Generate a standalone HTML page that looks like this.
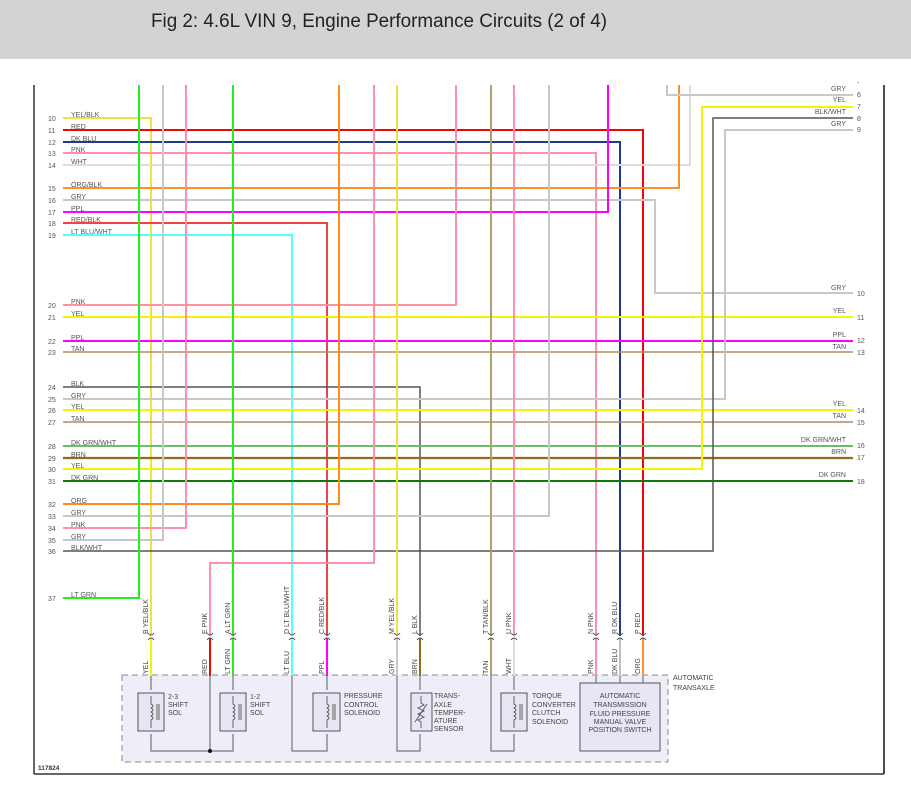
<!DOCTYPE html>
<html><head><meta charset="utf-8"><style>
html,body{margin:0;padding:0;background:#fff;}
svg{display:block;}
text{font-family:"Liberation Sans",sans-serif;}
</style></head><body>
<svg width="911" height="798" viewBox="0 0 911 798" xmlns="http://www.w3.org/2000/svg">
<rect x="0" y="0" width="911" height="59" fill="#d3d3d3"/>
<text x="151" y="27" font-size="19" fill="#222" textLength="456" lengthAdjust="spacingAndGlyphs">Fig 2: 4.6L VIN 9, Engine Performance Circuits (2 of 4)</text>
<line x1="34" y1="85" x2="34" y2="774" stroke="#333" stroke-width="1.5"/>
<line x1="884" y1="85" x2="884" y2="774" stroke="#111" stroke-width="1.5"/>
<line x1="34" y1="774" x2="884" y2="774" stroke="#333" stroke-width="1.5"/>

<rect x="122" y="675" width="546" height="87" fill="#eeeef8" stroke="#888" stroke-dasharray="6,4"/>

<g fill="none" stroke-width="2">
<polyline points="63,118 151,118 151,636" stroke="#f0e040"/>
<polyline points="63,130 643,130 643,636" stroke="#ff0000"/>
<polyline points="63,142 620,142 620,636" stroke="#1f3a93"/>
<polyline points="63,153 596,153 596,636" stroke="#ff90a8"/>
<polyline points="63,165 690,165 690,85" stroke="#dddddd"/>
<polyline points="63,188 679,188 679,85" stroke="#ff9030"/>
<polyline points="63,200 655,200 655,293 853,293" stroke="#c8c8c8"/>
<polyline points="63,212 608,212 608,85" stroke="#ff00ff"/>
<polyline points="63,223 327,223 327,636" stroke="#ee4444"/>
<polyline points="63,235 292,235 292,636" stroke="#55ffff"/>
<polyline points="63,305 456,305 456,85" stroke="#ff90a8"/>
<polyline points="63,317 853,317" stroke="#f5f500"/>
<polyline points="63,341 853,341" stroke="#ff00ff"/>
<polyline points="63,352 853,352" stroke="#a89060" stroke-width="1.6"/>
<polyline points="63,387 420,387 420,636" stroke="#555" stroke-width="1.5"/>
<polyline points="63,399 725,399 725,130 853,130" stroke="#c8c8c8"/>
<polyline points="63,410 853,410" stroke="#f5f500"/>
<polyline points="63,422 853,422" stroke="#a89060" stroke-width="1.6"/>
<polyline points="63,446 853,446" stroke="#6dbb6d"/>
<polyline points="63,458 853,458" stroke="#8b6d1a" stroke-width="2.2"/>
<polyline points="63,469 702,469 702,107 853,107" stroke="#f5f500"/>
<polyline points="63,481 853,481" stroke="#0a7a0a"/>
<polyline points="63,504 339,504 339,85" stroke="#ff8c1a"/>
<polyline points="63,516 549,516 549,85" stroke="#c8c8c8"/>
<polyline points="63,528 186,528 186,85" stroke="#ff90a8"/>
<polyline points="63,540 163,540 163,85" stroke="#c8c8c8"/>
<polyline points="63,551 713,551 713,118 853,118" stroke="#555" stroke-width="1.5"/>
<polyline points="63,598 139,598 139,85" stroke="#22ee22"/>
<polyline points="667,85 667,95 853,95" stroke="#c8c8c8"/>
<polyline points="374,85 374,563 210,563 210,636" stroke="#ff90a8"/>
<polyline points="233,85 233,636" stroke="#22ee22"/>
<polyline points="397,85 397,636" stroke="#f0e040"/>
<polyline points="491,85 491,636" stroke="#b0a070"/>
<polyline points="514,85 514,636" stroke="#ff90a8"/>
<line x1="151" y1="638" x2="151" y2="676" stroke="#f5f500"/>
<line x1="210" y1="638" x2="210" y2="676" stroke="#ff0000"/>
<line x1="233" y1="638" x2="233" y2="676" stroke="#22ee22"/>
<line x1="292" y1="638" x2="292" y2="676" stroke="#55ffff"/>
<line x1="327" y1="638" x2="327" y2="676" stroke="#ff00ff"/>
<line x1="397" y1="638" x2="397" y2="676" stroke="#c8c8c8"/>
<line x1="420" y1="638" x2="420" y2="676" stroke="#8b6d1a"/>
<line x1="491" y1="638" x2="491" y2="676" stroke="#b0a070"/>
<line x1="514" y1="638" x2="514" y2="676" stroke="#dddddd"/>
<line x1="596" y1="638" x2="596" y2="676" stroke="#ff90a8"/>
<line x1="620" y1="638" x2="620" y2="676" stroke="#c0c0c0"/>
<line x1="643" y1="638" x2="643" y2="676" stroke="#ff9030"/>
</g>

<g fill="none" stroke="#777" stroke-width="1.2">
<polyline points="151,676 151,690"/><polyline points="151,734 151,751 233,751 233,734"/><polyline points="233,676 233,690"/>
<polyline points="210,676 210,751"/>
<polyline points="292,676 292,751 327,751 327,734"/><polyline points="327,676 327,690"/>
<polyline points="397,676 397,751 420,751 420,734"/><polyline points="420,676 420,690"/>
<polyline points="491,676 491,751 514,751 514,734"/><polyline points="514,676 514,690"/>
<line x1="596" y1="676" x2="596" y2="683"/><line x1="620" y1="676" x2="620" y2="683"/><line x1="643" y1="676" x2="643" y2="683"/>
</g>
<circle cx="210" cy="751" r="2" fill="#111"/>

<g fill="#e6e6f4" stroke="#555" stroke-width="1">
<rect x="138" y="693" width="26" height="38"/>
<rect x="220" y="693" width="26" height="38"/>
<rect x="313" y="693" width="27" height="38"/>
<rect x="411" y="693" width="21" height="38"/>
<rect x="501" y="693" width="26" height="38"/>
<rect x="580" y="683" width="80" height="68"/>
</g>
<g fill="none" stroke="#555" stroke-width="0.9">
<path d="M151,696 V704 q4,2 0,4 q4,2 0,4 q4,2 0,4 q4,2 0,4 V728 M157,704 V720 M159,704 V720"/>
<path d="M233,696 V704 q4,2 0,4 q4,2 0,4 q4,2 0,4 q4,2 0,4 V728 M239,704 V720 M241,704 V720"/>
<path d="M327,696 V704 q4,2 0,4 q4,2 0,4 q4,2 0,4 q4,2 0,4 V728 M333,704 V720 M335,704 V720"/>
<path d="M514,696 V704 q4,2 0,4 q4,2 0,4 q4,2 0,4 q4,2 0,4 V728 M520,704 V720 M522,704 V720"/>
<path d="M421,696 V703 l3,2 -6,3 6,3 -6,3 6,3 -6,3 3,2 V728 M415,722 L427,704"/>
</g>

<g font-size="7" fill="#444">
<text x="168" y="699">2-3</text><text x="168" y="707">SHIFT</text><text x="168" y="715">SOL</text>
<text x="250" y="699">1-2</text><text x="250" y="707">SHIFT</text><text x="250" y="715">SOL</text>
<text x="344" y="698">PRESSURE</text><text x="344" y="707">CONTROL</text><text x="344" y="715">SOLENOID</text>
<text x="434" y="698">TRANS-</text><text x="434" y="707">AXLE</text><text x="434" y="715">TEMPER-</text><text x="434" y="723">ATURE</text><text x="434" y="731">SENSOR</text>
<text x="532" y="698">TORQUE</text><text x="532" y="707">CONVERTER</text><text x="532" y="715">CLUTCH</text><text x="532" y="724">SOLENOID</text>
<g text-anchor="middle"><text x="620" y="698">AUTOMATIC</text><text x="620" y="707">TRANSMISSION</text><text x="620" y="716">FLUID PRESSURE</text><text x="620" y="724">MANUAL VALVE</text><text x="620" y="732">POSITION SWITCH</text></g>
<text x="673" y="680">AUTOMATIC</text><text x="673" y="690">TRANSAXLE</text>
<text x="38" y="770" font-size="6.5" font-weight="bold" fill="#333">117824</text>
</g>

<g font-size="7" fill="#555">
<text x="48" y="121">10</text><text x="71" y="117">YEL/BLK</text>
<text x="48" y="133">11</text><text x="71" y="129">RED</text>
<text x="48" y="145">12</text><text x="71" y="141">DK BLU</text>
<text x="48" y="156">13</text><text x="71" y="152">PNK</text>
<text x="48" y="168">14</text><text x="71" y="164">WHT</text>
<text x="48" y="191">15</text><text x="71" y="187">ORG/BLK</text>
<text x="48" y="203">16</text><text x="71" y="199">GRY</text>
<text x="48" y="215">17</text><text x="71" y="211">PPL</text>
<text x="48" y="226">18</text><text x="71" y="222">RED/BLK</text>
<text x="48" y="238">19</text><text x="71" y="234">LT BLU/WHT</text>
<text x="48" y="308">20</text><text x="71" y="304">PNK</text>
<text x="48" y="320">21</text><text x="71" y="316">YEL</text>
<text x="48" y="344">22</text><text x="71" y="340">PPL</text>
<text x="48" y="355">23</text><text x="71" y="351">TAN</text>
<text x="48" y="390">24</text><text x="71" y="386">BLK</text>
<text x="48" y="402">25</text><text x="71" y="398">GRY</text>
<text x="48" y="413">26</text><text x="71" y="409">YEL</text>
<text x="48" y="425">27</text><text x="71" y="421">TAN</text>
<text x="48" y="449">28</text><text x="71" y="445">DK GRN/WHT</text>
<text x="48" y="461">29</text><text x="71" y="457">BRN</text>
<text x="48" y="472">30</text><text x="71" y="468">YEL</text>
<text x="48" y="484">31</text><text x="71" y="480">DK GRN</text>
<text x="48" y="507">32</text><text x="71" y="503">ORG</text>
<text x="48" y="519">33</text><text x="71" y="515">GRY</text>
<text x="48" y="531">34</text><text x="71" y="527">PNK</text>
<text x="48" y="543">35</text><text x="71" y="539">GRY</text>
<text x="48" y="554">36</text><text x="71" y="550">BLK/WHT</text>
<text x="48" y="601">37</text><text x="71" y="597">LT GRN</text>
</g>
<g font-size="7" fill="#555">
<g text-anchor="end">
<text x="846" y="91">GRY</text><text x="846" y="102">YEL</text><text x="846" y="114">BLK/WHT</text><text x="846" y="126">GRY</text>
<text x="846" y="290">GRY</text><text x="846" y="313">YEL</text><text x="846" y="337">PPL</text><text x="846" y="349">TAN</text>
<text x="846" y="406">YEL</text><text x="846" y="418">TAN</text><text x="846" y="442">DK GRN/WHT</text><text x="846" y="454">BRN</text><text x="846" y="477">DK GRN</text>
</g>
<text x="857" y="85">-</text>
<text x="857" y="97">6</text><text x="857" y="109">7</text><text x="857" y="121">8</text><text x="857" y="132">9</text>
<text x="857" y="296">10</text><text x="857" y="320">11</text><text x="857" y="343">12</text><text x="857" y="355">13</text>
<text x="857" y="413">14</text><text x="857" y="425">15</text><text x="857" y="448">16</text><text x="857" y="460">17</text><text x="857" y="484">18</text>
</g>

<g fill="none" stroke="#555" stroke-width="0.9">
<path d="M148,633 q3,4 6,0 M148,640 q3,-4 6,0"/>
<path d="M207,633 q3,4 6,0 M207,640 q3,-4 6,0"/>
<path d="M230,633 q3,4 6,0 M230,640 q3,-4 6,0"/>
<path d="M289,633 q3,4 6,0 M289,640 q3,-4 6,0"/>
<path d="M324,633 q3,4 6,0 M324,640 q3,-4 6,0"/>
<path d="M394,633 q3,4 6,0 M394,640 q3,-4 6,0"/>
<path d="M417,633 q3,4 6,0 M417,640 q3,-4 6,0"/>
<path d="M488,633 q3,4 6,0 M488,640 q3,-4 6,0"/>
<path d="M511,633 q3,4 6,0 M511,640 q3,-4 6,0"/>
<path d="M593,633 q3,4 6,0 M593,640 q3,-4 6,0"/>
<path d="M617,633 q3,4 6,0 M617,640 q3,-4 6,0"/>
<path d="M640,633 q3,4 6,0 M640,640 q3,-4 6,0"/>
</g>
<g font-size="7" fill="#444" text-anchor="start">
<text transform="translate(148,634) rotate(-90)">B  YEL/BLK</text>
<text transform="translate(207,634) rotate(-90)">E  PNK</text>
<text transform="translate(230,634) rotate(-90)">A  LT GRN</text>
<text transform="translate(289,634) rotate(-90)">D  LT BLU/WHT</text>
<text transform="translate(324,634) rotate(-90)">C  RED/BLK</text>
<text transform="translate(394,634) rotate(-90)">M  YEL/BLK</text>
<text transform="translate(417,634) rotate(-90)">L  BLK</text>
<text transform="translate(488,634) rotate(-90)">T  TAN/BLK</text>
<text transform="translate(511,634) rotate(-90)">U  PNK</text>
<text transform="translate(593,634) rotate(-90)">N  PNK</text>
<text transform="translate(617,634) rotate(-90)">R  DK BLU</text>
<text transform="translate(640,634) rotate(-90)">P  RED</text>
<text transform="translate(148,674) rotate(-90)">YEL</text>
<text transform="translate(207,674) rotate(-90)">RED</text>
<text transform="translate(230,674) rotate(-90)">LT GRN</text>
<text transform="translate(289,674) rotate(-90)">LT BLU</text>
<text transform="translate(324,674) rotate(-90)">PPL</text>
<text transform="translate(394,674) rotate(-90)">GRY</text>
<text transform="translate(417,674) rotate(-90)">BRN</text>
<text transform="translate(488,674) rotate(-90)">TAN</text>
<text transform="translate(511,674) rotate(-90)">WHT</text>
<text transform="translate(593,674) rotate(-90)">PNK</text>
<text transform="translate(617,674) rotate(-90)">DK BLU</text>
<text transform="translate(640,674) rotate(-90)">ORG</text>
</g>
</svg>
</body></html>
